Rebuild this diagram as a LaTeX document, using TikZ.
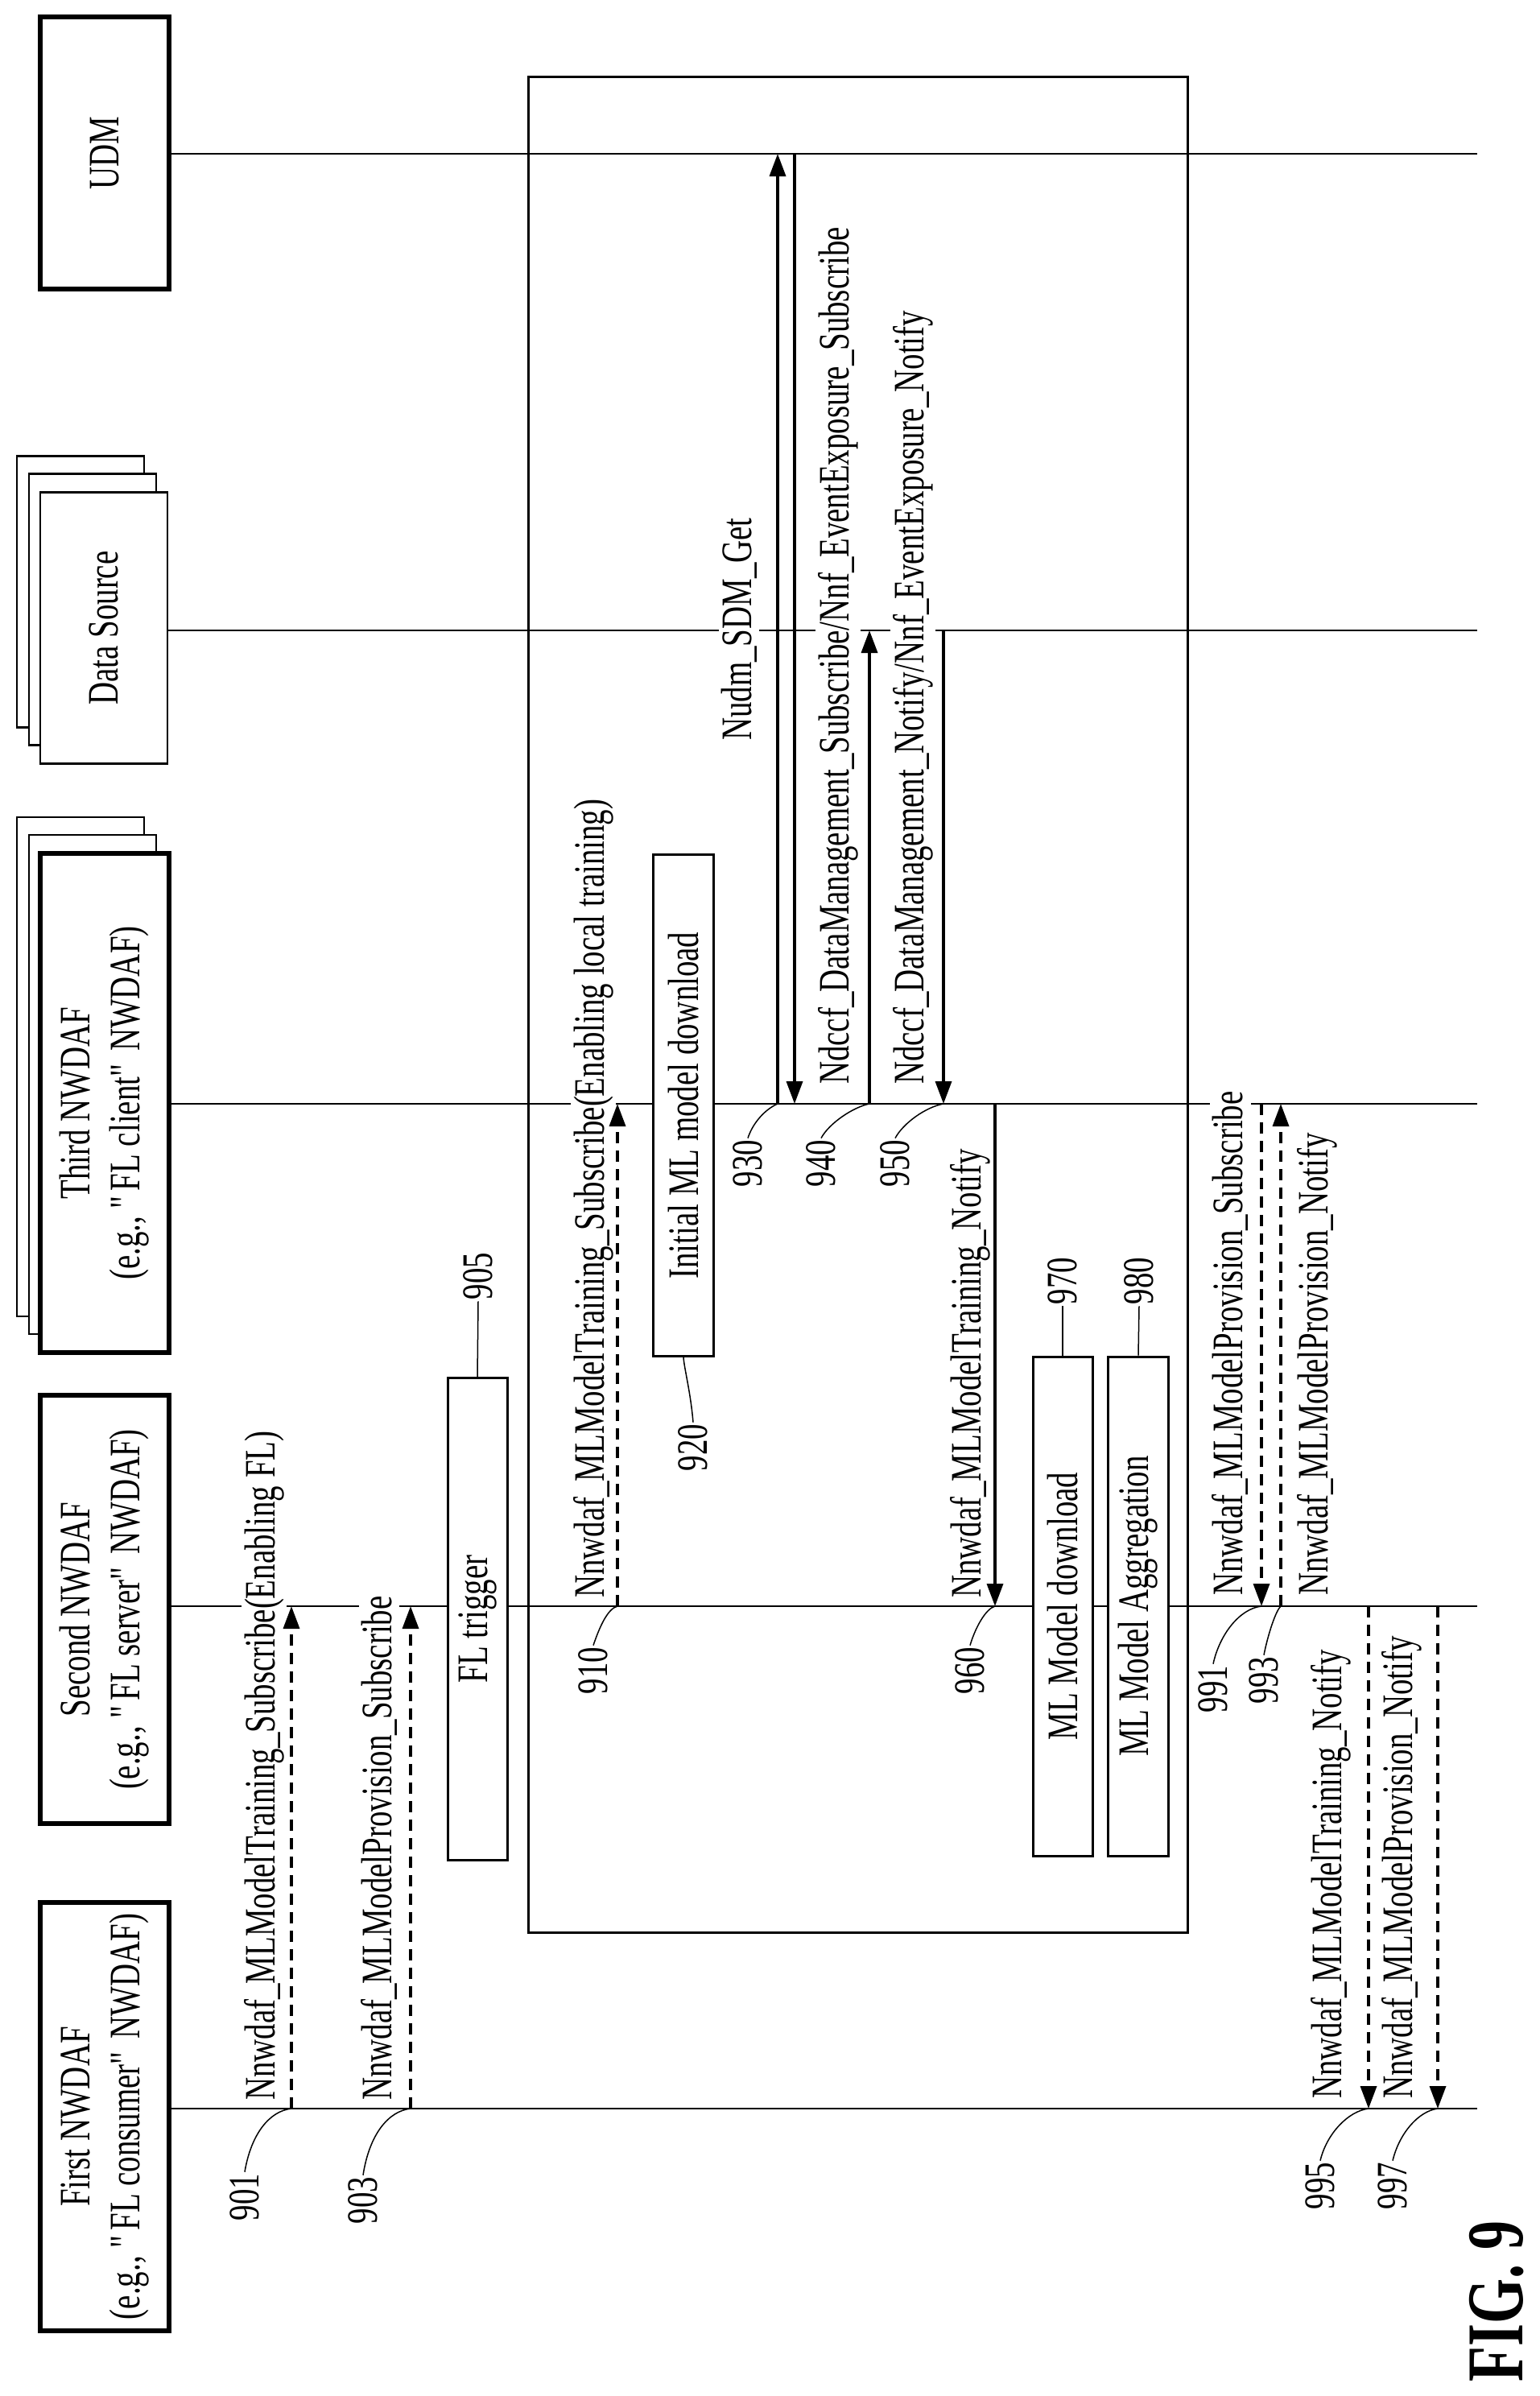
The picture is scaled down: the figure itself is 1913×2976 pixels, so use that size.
\documentclass[tikz,border=0pt]{standalone}
\usepackage{fontspec}
\setmainfont{Liberation Serif}[FakeStretch=0.72]
\newcommand\mydq{\XeTeXglyph\XeTeXglyphindex "quotedbl"\relax}
\usetikzlibrary{arrows.meta}
\begin{document}
\begin{tikzpicture}[x=1pt,y=-1pt,
  every node/.style={font=\fontsize{54}{62}\selectfont},
  actor/.style={draw,line width=6pt,rotate=90,align=center,fill=white,inner sep=0pt},
  thinactor/.style={draw,line width=2.5pt,rotate=90,align=center,fill=white,inner sep=0pt},
  proc/.style={draw,line width=3pt,rotate=90,fill=white,inner sep=0pt},
  life/.style={line width=2pt},
  lbl/.style={rotate=90,fill=white,inner sep=3pt,anchor=west},
  num/.style={rotate=90,inner sep=2pt},
  lead/.style={line width=1.5pt},
  tip/.style={-{Triangle[length=28pt,width=20pt]}},
  msg/.style={tip,line width=3.5pt},
  dmsg/.style={tip,line width=3.5pt,dash pattern=on 14pt off 9pt}]
\useasboundingbox (0,0) rectangle (1913,2976);
% actors
\node[actor,minimum width=337,minimum height=160] (udm) at (130,190) {UDM};
\node[thinactor,minimum width=337,minimum height=158] (ds3) at (100,735) {};
\node[thinactor,minimum width=337,minimum height=158] (ds2) at (115,757) {};
\node[thinactor,minimum width=337,minimum height=158] (ds) at (129,780) {Data Source};
\node[thinactor,minimum width=620,minimum height=158] (th3) at (100,1325) {};
\node[thinactor,minimum width=620,minimum height=158] (th2) at (115,1347) {};
\node[actor,minimum width=620,minimum height=160] (third) at (130,1370) {Third NWDAF\\(e.g., \mydq FL client\mydq\ NWDAF)};
\node[actor,minimum width=532,minimum height=160] (second) at (130,1999) {Second NWDAF\\(e.g., \mydq FL server\mydq\ NWDAF)};
\node[actor,minimum width=532,minimum height=160] (first) at (130,2629) {First NWDAF\\(e.g., \mydq FL consumer\mydq\ NWDAF)};
% lifeline ends
\coordinate (eU) at (1835,191);
\coordinate (eD) at (1835,783);
\coordinate (eT) at (1835,1371);
\coordinate (eS) at (1835,1995);
\coordinate (eF) at (1835,2619);
\draw[life] (210,191) -- (eU);
\draw[life] (208,783) -- (eD);
\draw[life] (210,1371) -- (eT);
\draw[life] (210,1995) -- (eS);
\draw[life] (210,2619) -- (eF);
% frame
\draw[line width=3pt] (656,96) rectangle (1475,2400);
% process boxes
\node[proc,minimum width=599,minimum height=74] (fl) at (593,2011) {FL trigger};
\node[proc,minimum width=623,minimum height=75] (init) at (849,1373) {Initial ML model download};
\node[proc,minimum width=620,minimum height=74] (mld) at (1320,1995) {ML Model download};
\node[proc,minimum width=620,minimum height=75] (mla) at (1414,1995) {ML Model Aggregation};
% labels
\node[lbl] (t901) at (328,2612) {Nnwdaf\_MLModelTraining\_Subscribe(Enabling FL)};
\node[lbl] (t903) at (471,2612) {Nnwdaf\_MLModelProvision\_Subscribe};
\node[lbl] (t910) at (737,1988) {Nnwdaf\_MLModelTraining\_Subscribe(Enabling local training)};
\node[lbl] (t930) at (918,923) {Nudm\_SDM\_Get};
\node[lbl] (t940) at (1041,1350) {Ndccf\_DataManagement\_Subscribe/Nnf\_EventExposure\_Subscribe};
\node[lbl] (t950) at (1134,1350) {Ndccf\_DataManagement\_Notify/Nnf\_EventExposure\_Notify};
\node[lbl] (t960) at (1205,1988) {Nnwdaf\_MLModelTraining\_Notify};
\node[lbl] (t991) at (1528,1985) {Nnwdaf\_MLModelProvision\_Subscribe};
\node[lbl] (t993) at (1636,1985) {Nnwdaf\_MLModelProvision\_Notify};
\node[lbl] (t995) at (1653,2610) {Nnwdaf\_MLModelTraining\_Notify};
\node[lbl] (t997) at (1741,2610) {Nnwdaf\_MLModelProvision\_Notify};
% message arrows
\coordinate (a901s) at (362,2619); \coordinate (a901e) at (362,1995);
\coordinate (a903s) at (510,2619); \coordinate (a903e) at (510,1995);
\coordinate (a910s) at (767,1995); \coordinate (a910e) at (767,1371);
\coordinate (a930s) at (966,1371); \coordinate (a930e) at (966,191);
\coordinate (a931s) at (987,191);  \coordinate (a931e) at (987,1371);
\coordinate (a940s) at (1080,1371); \coordinate (a940e) at (1080,783);
\coordinate (a950s) at (1172,783); \coordinate (a950e) at (1172,1371);
\coordinate (a960s) at (1236,1371); \coordinate (a960e) at (1236,1995);
\coordinate (a991s) at (1567,1371); \coordinate (a991e) at (1567,1995);
\coordinate (a993s) at (1591,1995); \coordinate (a993e) at (1591,1371);
\coordinate (a995s) at (1700,1995); \coordinate (a995e) at (1700,2619);
\coordinate (a997s) at (1786,1995); \coordinate (a997e) at (1786,2619);
\draw[dmsg] (a901s) -- (a901e);
\draw[dmsg] (a903s) -- (a903e);
\draw[dmsg] (a910s) -- (a910e);
\draw[msg] (a930s) -- (a930e);
\draw[msg] (a931s) -- (a931e);
\draw[msg] (a940s) -- (a940e);
\draw[msg] (a950s) -- (a950e);
\draw[msg] (a960s) -- (a960e);
\draw[dmsg] (a991s) -- (a991e);
\draw[dmsg] (a993s) -- (a993e);
\draw[dmsg] (a995s) -- (a995e);
\draw[dmsg] (a997s) -- (a997e);
% reference numbers
\node[num] (n901) at (304,2729) {901};
\node[num] (n903) at (451,2733) {903};
\node[num] (n905) at (594,1585) {905};
\node[num] (n910) at (737,2075) {910};
\node[num] (n920) at (861,1798) {920};
\node[num] (n930) at (929,1445) {930};
\node[num] (n940) at (1020,1445) {940};
\node[num] (n950) at (1112,1445) {950};
\node[num] (n960) at (1205,2075) {960};
\node[num] (n970) at (1320,1591) {970};
\node[num] (n980) at (1415,1591) {980};
\node[num] (n991) at (1507,2098) {991};
\node[num] (n993) at (1570,2087) {993};
\node[num] (n995) at (1640,2715) {995};
\node[num] (n997) at (1730,2715) {997};
\draw[lead] (n901.east) .. controls (312,2650) and (335,2622) .. (a901s);
\draw[lead] (n903.east) .. controls (459,2650) and (483,2622) .. (a903s);
\draw[lead] (n905.west) -- (fl.east);
\draw[lead] (n910.east) .. controls (745,2020) and (755,1998) .. (a910s);
\draw[lead] (n920.east) .. controls (858,1730) and (850,1700) .. (init.west);
\draw[lead] (n930.east) .. controls (935,1395) and (950,1378) .. (a930s);
\draw[lead] (n940.east) .. controls (1030,1395) and (1060,1375) .. (a940s);
\draw[lead] (n950.east) .. controls (1122,1395) and (1150,1375) .. (a950e);
\draw[lead] (n960.east) .. controls (1212,2020) and (1225,1998) .. (a960e);
\draw[lead] (n970.west) -- (mld.east);
\draw[lead] (n980.west) -- (mla.east);
\draw[lead] (n991.east) .. controls (1515,2030) and (1540,1998) .. (a991e);
\draw[lead] (n993.east) .. controls (1575,2030) and (1585,2000) .. (a993s);
\draw[lead] (n995.east) .. controls (1648,2650) and (1675,2622) .. (a995e);
\draw[lead] (n997.east) .. controls (1738,2650) and (1762,2622) .. (a997e);
\node[rotate=90,font=\fontsize{100}{110}\selectfont\bfseries] (fig) at (1859,2858) {FIG. 9};
\end{tikzpicture}
\end{document}
